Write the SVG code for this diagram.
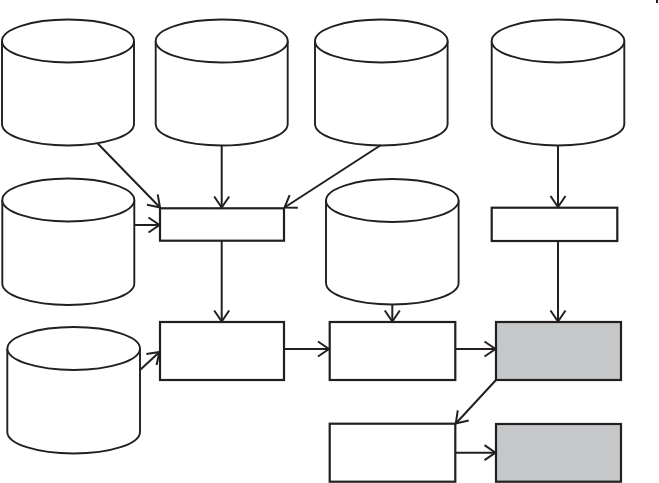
<svg xmlns="http://www.w3.org/2000/svg" width="659" height="483" viewBox="0 0 659 483">
<style>
.cyl{fill:#fff;stroke:#231f20;stroke-width:1.9}
.box{fill:#fff;stroke:#231f20;stroke-width:2.2}
.gray{fill:#c6c7c9;stroke:#231f20;stroke-width:2.2}
.conn line{stroke:#231f20;stroke-width:2;fill:none;marker-end:url(#arr)}
</style>
<defs>
<marker id="arr" markerUnits="userSpaceOnUse" viewBox="-13 -9 15 18" markerWidth="15" markerHeight="18" refX="0" refY="0" orient="auto">
<path d="M-11,-7.5 L0,0 L-11,7.5" fill="none" stroke="#231f20" stroke-width="2"/>
</marker>
</defs>
<rect width="659" height="483" fill="#fff"/>
<rect x="656" y="0" width="2" height="3" fill="#231f20"/>
<g id="cyl1"><path class="cyl" d="M2,41 L2,124 A66,21.5 0 0 0 134,124 L134,41"/><ellipse class="cyl" cx="68" cy="41" rx="66" ry="21.5"/></g>
<g id="cyl2"><path class="cyl" d="M155.7,41 L155.7,124 A66,21.5 0 0 0 287.7,124 L287.7,41"/><ellipse class="cyl" cx="221.7" cy="41" rx="66" ry="21.5"/></g>
<g id="cyl3"><path class="cyl" d="M315,41 L315,124 A66.3,21.5 0 0 0 447.6,124 L447.6,41"/><ellipse class="cyl" cx="381.3" cy="41" rx="66.3" ry="21.5"/></g>
<g id="cyl4"><path class="cyl" d="M491.7,41 L491.7,124 A66.3,21.5 0 0 0 624.3,124 L624.3,41"/><ellipse class="cyl" cx="558" cy="41" rx="66.3" ry="21.5"/></g>
<g id="cyl5"><path class="cyl" d="M2.3,200 L2.3,283.5 A66,21.5 0 0 0 134.3,283.5 L134.3,200"/><ellipse class="cyl" cx="68.3" cy="200" rx="66" ry="21.5"/></g>
<g id="cyl6"><path class="cyl" d="M326,200.5 L326,283 A66.3,21.5 0 0 0 458.6,283 L458.6,200.5"/><ellipse class="cyl" cx="392.3" cy="200.5" rx="66.3" ry="21.5"/></g>
<g id="cyl7"><path class="cyl" d="M7.3,348.5 L7.3,432 A66.3,21.5 0 0 0 140,432 L140,348.5"/><ellipse class="cyl" cx="73.7" cy="348.5" rx="66.3" ry="21.5"/></g>
<g id="box1"><rect class="box" x="160" y="208.3" width="124" height="32.4"/></g>
<g id="box2"><rect class="box" x="491.7" y="207.7" width="125.6" height="33.3"/></g>
<g id="box4"><rect class="box" x="160" y="322" width="124" height="58"/></g>
<g id="box3"><rect class="box" x="329.7" y="322" width="125.6" height="58"/></g>
<g id="gray1"><rect class="gray" x="496" y="322" width="125" height="58"/></g>
<g id="box5"><rect class="box" x="329.7" y="423.7" width="125.6" height="58"/></g>
<g id="gray2"><rect class="gray" x="496" y="424" width="125" height="57.7"/></g>
<g class="conn" id="connectors">
<line x1="97.7" y1="143.5" x2="160" y2="207.5"/>
<line x1="221.7" y1="145.5" x2="221.7" y2="207.5"/>
<line x1="381" y1="145" x2="284.5" y2="207.5"/>
<line x1="134.3" y1="225" x2="159.5" y2="225"/>
<line x1="221.7" y1="241" x2="221.7" y2="321.5"/>
<line x1="558" y1="145.5" x2="558" y2="207"/>
<line x1="558" y1="241" x2="558" y2="321.5"/>
<line x1="392.3" y1="304.5" x2="392.3" y2="321.5"/>
<line x1="140" y1="370" x2="159.5" y2="352"/>
<line x1="284" y1="349" x2="329" y2="349"/>
<line x1="455.3" y1="349" x2="495.5" y2="349"/>
<line x1="496" y1="380" x2="455.8" y2="423.5"/>
<line x1="455.3" y1="452.7" x2="495.5" y2="452.7"/>
</g>
</svg>
